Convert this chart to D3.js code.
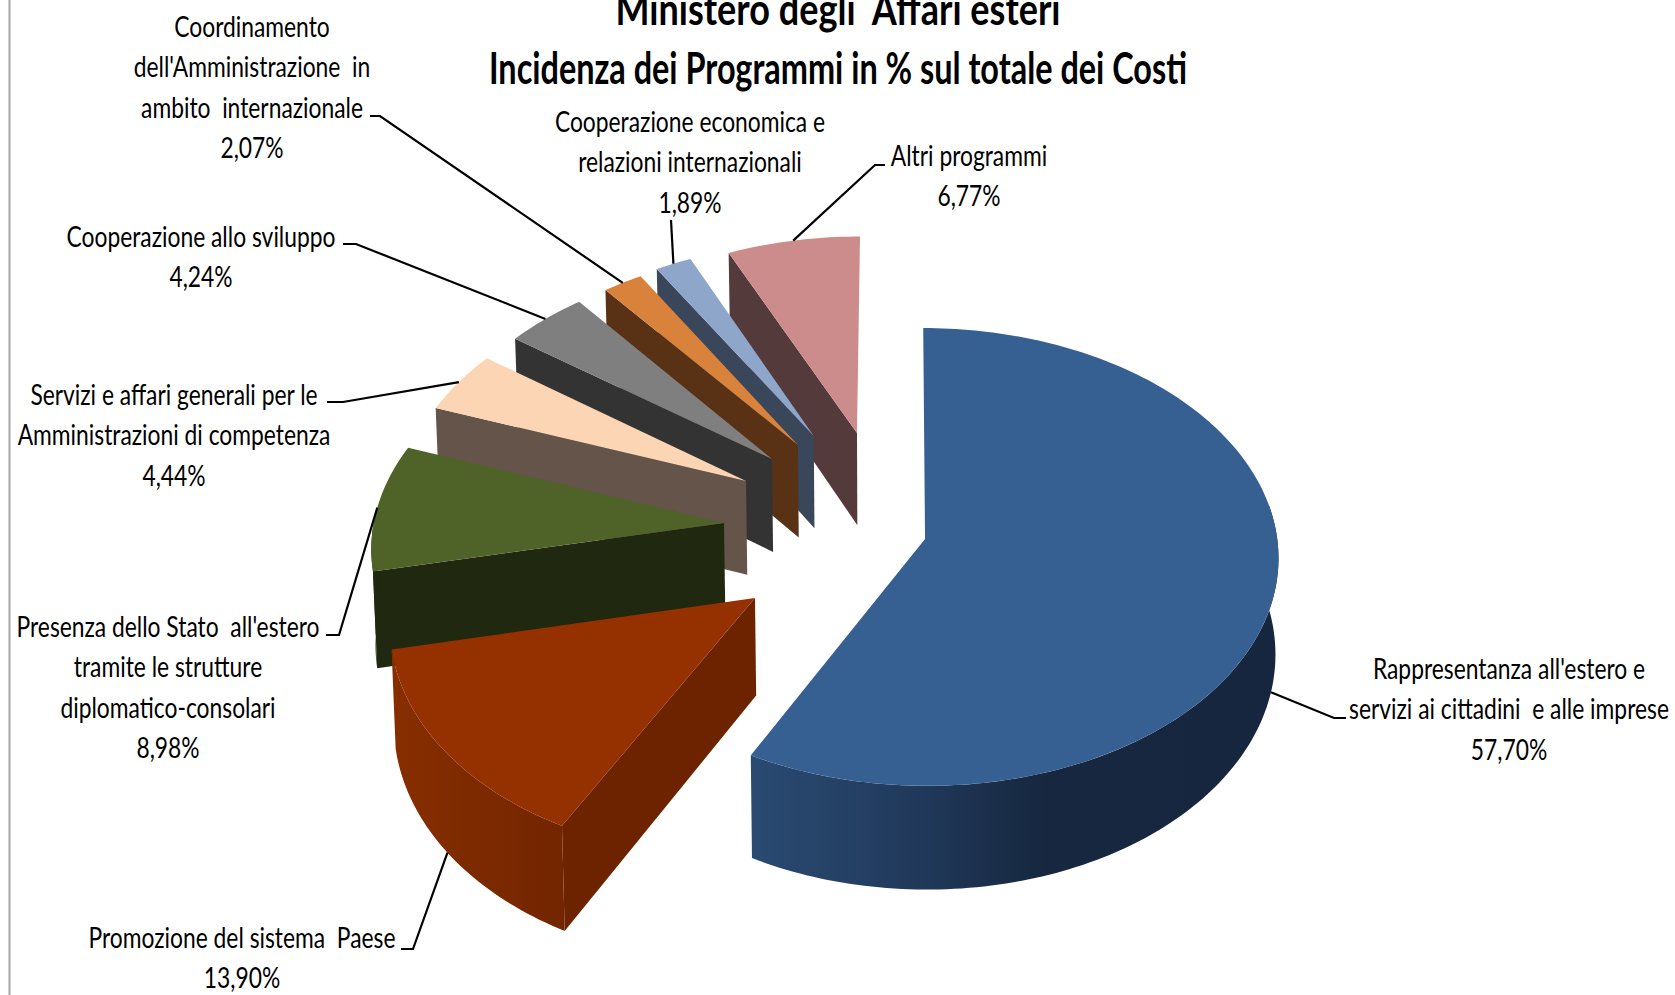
<!DOCTYPE html>
<html>
<head>
<meta charset="utf-8">
<title>Incidenza dei Programmi</title>
<script src="https://cdn.jsdelivr.net/npm/d3@7"></script>
<style>
  body { margin: 0; background: #fff; }
  text { font-family: Lato, "Noto Sans", sans-serif; fill: #000; }
</style>
</head>
<body>
<svg id="chart" width="1675" height="995"></svg>
<script>
// data, clockwise from 12 o'clock
var programmi = [
  "Rappresentanza all'estero e servizi ai cittadini e alle imprese",
  "Promozione del sistema Paese",
  "Presenza dello Stato all'estero tramite le strutture diplomatico-consolari",
  "Servizi e affari generali per le Amministrazioni di competenza",
  "Cooperazione allo sviluppo",
  "Coordinamento dell'Amministrazione in ambito internazionale",
  "Cooperazione economica e relazioni internazionali",
  "Altri programmi"
];
var percentuali = [57.7, 13.9, 8.98, 4.44, 4.24, 2.07, 1.89, 6.77];
var percentLabels = ["57,70%", "13,90%", "8,98%", "4,44%", "4,24%", "2,07%", "1,89%", "6,77%"];
var labelLines = [
  ["Rappresentanza all'estero e", "servizi ai cittadini  e alle imprese"],
  ["Promozione del sistema  Paese"],
  ["Presenza dello Stato  all'estero", "tramite le strutture", "diplomatico-consolari"],
  ["Servizi e affari generali per le", "Amministrazioni di competenza"],
  ["Cooperazione allo sviluppo"],
  ["Coordinamento", "dell'Amministrazione  in", "ambito  internazionale"],
  ["Cooperazione economica e", "relazioni internazionali"],
  ["Altri programmi"]
];
var titleLines = ["Ministero degli  Affari esteri", "Incidenza dei Programmi in % sul totale dei Costi"];

// styles
var topColors = ["#376092", "#953000", "#4f6228", "#fcd5b5", "#7f7f7f", "#d9823b", "#8fa6cb", "#cd8c8c"];
var wallColors = ["#15263e", "#6e2300", "#20280f", "#65544a", "#333333", "#593216", "#3a465a", "#553a3c"];

// layout of the exploded pie: how far each slice is pulled out, in radii
var explode = [[0.07, -0.092], [-0.3975, -0.342], [-0.495, -0.022], [-0.4394, 0.165],
  [-0.368, 0.265], [-0.295, 0.329], [-0.25, 0.371], [-0.1248, 0.385]];
var radii = [0.985, 0.995, 0.985, 0.98, 0.975, 0.97, 0.965, 0.985];
var perspective = 0.0786,
  depth = 95,
  bottomShrink = 0.008;

var labelAnchors = [[1509, 669], [242, 938], [168, 627], [174, 395], [201, 237], [252, 27], [690, 122], [969, 156]];
var leaderStarts = [[1346, 718], [401, 949], [326, 635], [327, 402], [343, 244], [370, 116], [671, 220], [885, 165]];
var leaderElbows = [[1334, 718], [413, 949], [339, 635], [343, 402], [356, 244], [380, 116], null, [875, 165]];
var leaderDepth = [1, 1, 0, 0, 0, 0, 0, 0];
var lineHeight = 40.4;
var textSqueeze = 0.815;

var svg = d3.select("#chart");
var defs = svg.append("defs");

var xScale = d3.scaleLinear().domain([-1, 1]).range([900 - 355, 900 + 355]);
var yScale = d3.scaleLinear().domain([-1, 1]).range([518 + 227.6, 518 - 227.6]);

var pie = d3.pie().sort(null).value(function (d) {
  return d;
});
var slices = pie(percentuali);

var project = function (i, angle, r, z) {
  var X = explode[i][0] + r * Math.sin(angle),
    Y = explode[i][1] + r * Math.cos(angle),
    s = 1 / (1 + perspective * Y);
  return [xScale(X * s * (1 - bottomShrink * z)), yScale(Y * s) + depth * z * s];
};

var line = d3.line();

var arcAngles = function (a0, a1) {
  var n = Math.max(2, Math.ceil((a1 - a0) / 0.02));
  return d3.range(n + 1).map(function (k) {
    return a0 + ((a1 - a0) * k) / n;
  });
};

var topFace = function (i, d) {
  var pts = [project(i, 0, 0, 0)];
  arcAngles(d.startAngle, d.endAngle).forEach(function (a) {
    pts.push(project(i, a, radii[i], 0));
  });
  return line(pts) + "Z";
};

var edgeWall = function (i, angle) {
  return line([
    project(i, 0, 0, 0),
    project(i, angle, radii[i], 0),
    project(i, angle, radii[i], 1),
    project(i, 0, 0, 1)
  ]) + "Z";
};

var outerWall = function (i, a0, a1) {
  var angles = arcAngles(a0, a1);
  var upper = angles.map(function (a) {
    return project(i, a, radii[i], 0);
  });
  var lower = angles.slice().reverse().map(function (a) {
    return project(i, a, radii[i], 1);
  });
  return line(upper.concat(lower)) + "Z";
};

// the two slices with a visible rim get a horizontal shading
var addGradient = function (id, x1, x2, stops) {
  var g = defs.append("linearGradient")
    .attr("id", id)
    .attr("gradientUnits", "userSpaceOnUse")
    .attr("x1", x1).attr("x2", x2)
    .attr("y1", 0).attr("y2", 0);
  stops.forEach(function (s) {
    g.append("stop").attr("offset", s[0]).attr("stop-color", s[1]);
  });
};
addGradient("rim0", 750, 1290, [[0, "#2a4a72"], [0.3, "#213a5c"], [0.55, "#16273f"], [1, "#15263e"]]);
addGradient("rim1", 393, 566, [[0, "#872e00"], [1, "#722500"]]);

// left frame line
svg.append("line")
  .attr("x1", 9.5).attr("x2", 9.5)
  .attr("y1", 0).attr("y2", 995)
  .attr("stroke", "#a6a6a6")
  .attr("stroke-width", 2);

// back to front: the small far slices first, the big ones last
var order = [7, 6, 5, 4, 3, 2, 1, 0];
var pieG = svg.append("g").attr("class", "pie");

var sliceG = pieG.selectAll(".slice")
  .data(order)
  .enter()
  .append("g")
  .attr("class", "slice");

sliceG.each(function (i) {
  var g = d3.select(this),
    d = slices[i];
  if (i > 0) {
    g.append("path")
      .attr("d", edgeWall(i, d.startAngle))
      .attr("fill", wallColors[i]);
  }
  if (i < 3) {
    // rim only exists where the outside of the arc faces the viewer
    var a0 = Math.max(d.startAngle, Math.PI / 2 - 0.15),
      a1 = Math.min(d.endAngle, Math.PI * 1.5);
    g.append("path")
      .attr("d", outerWall(i, a0, a1))
      .attr("fill", i < 2 ? "url(#rim" + i + ")" : wallColors[i]);
  }
  g.append("path")
    .attr("d", topFace(i, d))
    .attr("fill", topColors[i]);
});

// leader lines
svg.append("g").selectAll("path")
  .data(slices)
  .enter()
  .append("path")
  .attr("fill", "none")
  .attr("stroke", "#000")
  .attr("stroke-width", 2.2)
  .attr("d", function (d, i) {
    var mid = (d.startAngle + d.endAngle) / 2;
    var pts = [leaderStarts[i]];
    if (leaderElbows[i]) pts.push(leaderElbows[i]);
    pts.push(project(i, mid, radii[i], leaderDepth[i]));
    return line(pts);
  });

// labels
var labels = svg.append("g").selectAll("g")
  .data(programmi)
  .enter()
  .append("g")
  .attr("transform", function (d, i) {
    return "translate(" + labelAnchors[i][0] + "," + labelAnchors[i][1] + ") scale(" + textSqueeze + ",1)";
  });

labels.selectAll("text")
  .data(function (d, i) {
    return labelLines[i].concat(percentLabels[i]);
  })
  .enter()
  .append("text")
  .attr("y", function (d, k) {
    return k * lineHeight + 10;
  })
  .attr("text-anchor", "middle")
  .attr("font-size", 28)
  .attr("xml:space", "preserve")
  .text(function (d) {
    return d;
  });

// title
svg.selectAll(".title")
  .data(titleLines)
  .enter()
  .append("text")
  .attr("class", "title")
  .attr("x", 838)
  .attr("y", function (d, i) {
    return i === 0 ? 25 : 84;
  })
  .attr("text-anchor", "middle")
  .attr("font-size", 43)
  .attr("font-weight", 700)
  .attr("textLength", function (d, i) {
    return i === 0 ? 445 : 698;
  })
  .attr("lengthAdjust", "spacingAndGlyphs")
  .attr("xml:space", "preserve")
  .text(function (d) {
    return d;
  });
</script>
</body>
</html>
